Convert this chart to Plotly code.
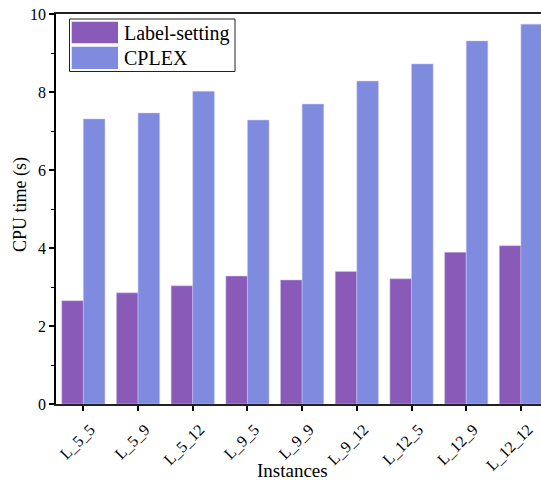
import plotly.graph_objects as go

# Data
instances = ["L_5_5", "L_5_9", "L_5_12", "L_9_5", "L_9_9", "L_9_12", "L_12_5", "L_12_9", "L_12_12"]
label_setting = [2.65, 2.85, 3.03, 3.28, 3.18, 3.40, 3.21, 3.89, 4.06]
cplex = [7.31, 7.46, 8.02, 7.28, 7.69, 8.28, 8.72, 9.31, 9.74]
series_names = ["Label-setting", "CPLEX"]

PURPLE = "#8A5AB8"
BLUE = "#7F8BDE"
FONT = "Liberation Serif"

W, H = 541, 480
ML, MR, MT, MB = 56, 0, 14, 76
PW, PH = W - ML - MR, H - MT - MB


def px(x):
    return (x - ML) / PW


def py(y):
    return (H - MB - y) / PH


fig = go.Figure()
for name, vals, col in zip(series_names, [label_setting, cplex], [PURPLE, BLUE]):
    fig.add_trace(go.Bar(
        x=instances, y=vals, name=name,
        marker=dict(color=col, line=dict(color="#c9c9ef", width=0.5)),
        showlegend=False,
    ))

# Legend box drawn with shapes so the swatches can be wide
shapes = [
    dict(type="rect", xref="paper", yref="paper",
         x0=px(69.5), x1=px(235), y0=py(71.5), y1=py(19),
         line=dict(color="#222", width=1), fillcolor="white", layer="above"),
]
annotations = []
rows = [(21.7, 43.3, 33), (46.7, 69, 58)]
for (top, bot, mid), name, col in zip(rows, series_names, [PURPLE, BLUE]):
    shapes.append(dict(type="rect", xref="paper", yref="paper",
                       x0=px(71.7), x1=px(118), y0=py(bot), y1=py(top),
                       line=dict(width=0), fillcolor=col, layer="above"))
    annotations.append(dict(xref="paper", yref="paper", x=px(122), y=py(mid),
                            text=name, showarrow=False, xanchor="left", yanchor="middle",
                            font=dict(family=FONT, size=20, color="black")))

# Axis titles
annotations.append(dict(xref="paper", yref="paper", x=px(292), y=py(470),
                        text="Instances", showarrow=False, xanchor="center", yanchor="middle",
                        font=dict(family=FONT, size=19, color="black")))
annotations.append(dict(xref="paper", yref="paper", x=px(20), y=py(205),
                        text="CPU time (s)", showarrow=False, textangle=-90,
                        xanchor="center", yanchor="middle",
                        font=dict(family=FONT, size=18, color="black")))

fig.update_layout(
    width=W, height=H,
    margin=dict(l=ML, r=MR, t=MT, b=MB, pad=0),
    plot_bgcolor="white", paper_bgcolor="white",
    barmode="group", bargap=0.21, bargroupgap=0,
    font=dict(family=FONT, size=16, color="black"),
    shapes=shapes, annotations=annotations,
    xaxis=dict(type="category", range=[-0.5, 8.367], tickangle=-45,
               ticks="outside", ticklen=5, tickwidth=1.5, tickcolor="black",
               ticklabelstandoff=3, ticklabelshift=7,
               showline=True, linecolor="#222", linewidth=1.8, mirror=True,
               showgrid=False, tickfont=dict(family=FONT, size=16)),
    yaxis=dict(range=[0, 10], dtick=2, tick0=0,
               ticks="outside", ticklen=5, tickwidth=1.5, tickcolor="black",
               minor=dict(dtick=1, ticks="outside", ticklen=3, tickwidth=1.2, tickcolor="black"),
               showline=True, linecolor="black", linewidth=1.8,
               showgrid=False, zeroline=False, tickfont=dict(family=FONT, size=16)),
)

fig.write_html("out.html")
